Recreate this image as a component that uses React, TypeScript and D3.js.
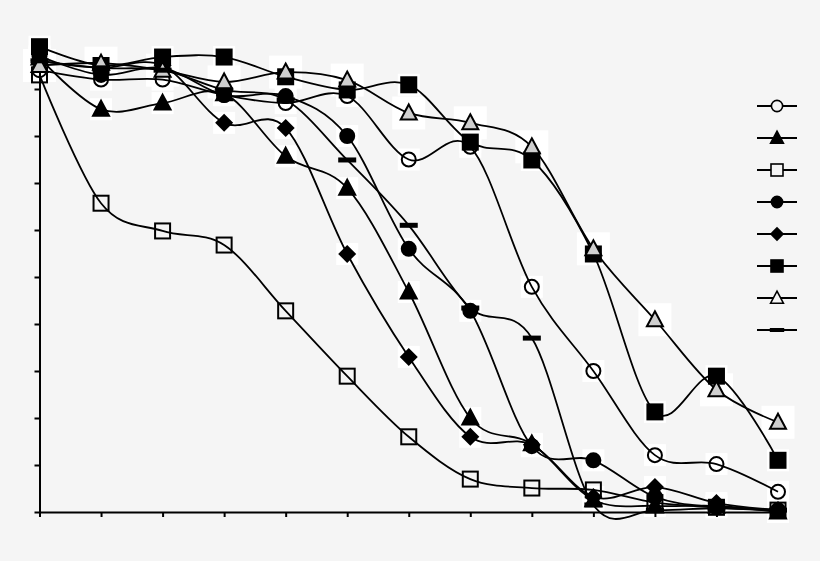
import React, { useEffect, useRef } from 'react';
import * as d3 from 'd3';

// x categories (labels were blanked in the original)
const categories = ['0', '1', '2', '3', '4', '5', '6', '7', '8', '9', '10', '11', '12'];
const yTicks = [0, 10, 20, 30, 40, 50, 60, 70, 80, 90, 100];

const openCircle = [94, 92, 92, 88.7, 87, 88.5, 75, 77.7, 47.9, 30, 12.1, 10.2, 4.3];
const filledTriangle = [96.6, 85.7, 87, 89, 75.7, 68.9, 46.8, 20, 14.5, 2.6, 1.3, 1.3, 0];
const openSquare = [93, 65.7, 59.8, 56.8, 42.8, 28.9, 16, 7, 5.1, 4.7, 2, 1, 0.4];
const filledCircle = [97, 93, 94.5, 88.7, 88.5, 80, 56, 42.8, 14, 11, 3.2, 1, 0.4];
const filledDiamond = [96, 94.5, 95, 82.8, 81.7, 54.9, 33, 16, 14.3, 3.2, 5.3, 1.9, 0.4];
const filledSquare = [99, 95, 96.8, 96.8, 92.6, 89.8, 90.9, 78.7, 74.9, 54.9, 21.3, 28.9, 11];
const grayTriangle = [95, 95.5, 94, 91.5, 93.6, 91.9, 84.9, 82.8, 77.7, 56, 40.9, 26, 19.1];
const dashSeries = [96, 94.5, 94, 89.8, 87.7, 74.9, 61, 43.4, 37, 1.5, 0.4, 0.8, 0.4];

type Shape = 'circle' | 'triangle' | 'square' | 'diamond' | 'dash';
interface Series {
  values: number[];
  shape: Shape;
  fill: string;
  box: number;
}

const series: Series[] = [
  { values: openCircle, shape: 'circle', fill: 'none', box: 22 },
  { values: filledTriangle, shape: 'triangle', fill: '#000', box: 22 },
  { values: openSquare, shape: 'square', fill: 'none', box: 0 },
  { values: filledCircle, shape: 'circle', fill: '#000', box: 22 },
  { values: filledDiamond, shape: 'diamond', fill: '#000', box: 22 },
  { values: filledSquare, shape: 'square', fill: '#000', box: 22 },
  { values: grayTriangle, shape: 'triangle', fill: '#cfcfcf', box: 33 },
  { values: dashSeries, shape: 'dash', fill: '#000', box: 0 },
];

const BG = '#f5f5f5';

function drawMarker(g: d3.Selection<SVGGElement, unknown, null, undefined>, shape: Shape, cx: number, cy: number, fill: string) {
  if (shape === 'circle') {
    g.append('circle').attr('cx', cx).attr('cy', cy).attr('r', 7)
      .attr('fill', fill).attr('stroke', '#000').attr('stroke-width', 2);
  } else if (shape === 'square') {
    g.append('rect').attr('x', cx - 7.5).attr('y', cy - 7.5).attr('width', 15).attr('height', 15)
      .attr('fill', fill).attr('stroke', '#000').attr('stroke-width', 2);
  } else if (shape === 'triangle') {
    g.append('path').attr('d', `M${cx},${cy - 8.5}L${cx + 8},${cy + 6.5}L${cx - 8},${cy + 6.5}Z`)
      .attr('fill', fill).attr('stroke', '#000').attr('stroke-width', 2);
  } else if (shape === 'diamond') {
    g.append('path').attr('d', `M${cx},${cy - 9}L${cx + 9},${cy}L${cx},${cy + 9}L${cx - 9},${cy}Z`)
      .attr('fill', fill);
  } else {
    g.append('rect').attr('x', cx - 9).attr('y', cy - 2.5).attr('width', 18).attr('height', 5)
      .attr('fill', '#000');
  }
}

export default function App() {
  const svgRef = useRef<SVGSVGElement>(null);

  useEffect(() => {
    if (!svgRef.current) return;
    const svg = d3.select(svgRef.current);
    svg.selectAll('*').remove();

    svg.append('rect').attr('width', 820).attr('height', 561).attr('fill', BG);

    const x = d3.scalePoint<string>().domain(categories).range([39.5, 778]);
    const y = d3.scaleLinear().domain([0, 100]).range([512, 42]);

    // blanked label boxes behind markers
    const boxes = svg.append('g');
    series.forEach(s => {
      if (!s.box) return;
      s.values.forEach((v, i) => {
        boxes.append('rect')
          .attr('x', x(categories[i])! - s.box / 2)
          .attr('y', y(v) - s.box / 2)
          .attr('width', s.box).attr('height', s.box)
          .attr('fill', '#fff');
      });
    });

    // axes
    const yAxis = svg.append('g').attr('transform', 'translate(39.5,0)')
      .call(d3.axisLeft(y).tickValues(yTicks).tickSize(5).tickSizeOuter(0).tickFormat(() => ''));
    yAxis.selectAll('path, line').attr('stroke', '#000').attr('stroke-width', 2);

    const xAxis = svg.append('g').attr('transform', 'translate(0,512)')
      .call(d3.axisBottom(x).tickSize(5).tickSizeOuter(0).tickFormat(() => ''));
    xAxis.selectAll('path, line').attr('stroke', '#000').attr('stroke-width', 2);

    const line = d3.line<number>()
      .x((_, i) => x(categories[i])!)
      .y(d => y(d))
      .curve(d3.curveCardinal.tension(0));

    const lines = svg.append('g');
    series.forEach(s => {
      lines.append('path').attr('d', line(s.values)!)
        .attr('fill', 'none').attr('stroke', '#000').attr('stroke-width', 1.8);
    });

    const marks = svg.append('g');
    series.forEach(s => {
      s.values.forEach((v, i) => drawMarker(marks, s.shape, x(categories[i])!, y(v), s.fill));
    });

    // legend (text was blanked)
    const legend = svg.append('g');
    series.forEach((s, i) => {
      const ly = 106 + i * 32;
      legend.append('line').attr('x1', 757).attr('x2', 797).attr('y1', ly).attr('y2', ly)
        .attr('stroke', '#000').attr('stroke-width', 1.8);
      const lf = s.fill === 'none' || s.shape === 'triangle' && s.fill !== '#000' ? BG : s.fill;
      const lg = legend.append('g').attr('transform', `translate(${777},${ly}) scale(0.8) translate(${-777},${-ly})`);
      drawMarker(lg, s.shape, 777, ly, lf);
    });
  }, []);

  return (
    <svg ref={svgRef} width={820} height={561}
      style={{ position: 'absolute', left: 0, top: 0, display: 'block' }} />
  );
}
